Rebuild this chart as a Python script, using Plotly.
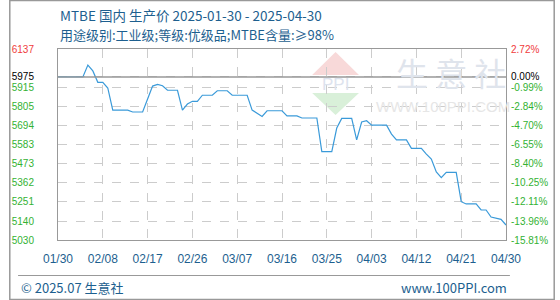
import pandas as pd
import plotly.graph_objects as go

# ---------------- data ----------------
start_date = "2025-01-30"
end_date = "2025-04-30"
dates = pd.date_range(start_date, end_date, freq="D")
prices = [
    5975, 5975, 5975, 5975, 5975, 5975,
    6044, 6010, 5944, 5944, 5911,
    5783, 5783, 5783, 5783,
    5772, 5772, 5772,
    5847, 5922, 5932, 5924,
    5898, 5898, 5898,
    5783, 5818, 5834, 5834,
    5869, 5869, 5869,
    5895, 5895, 5895,
    5869, 5869, 5869, 5869,
    5783, 5763, 5746,
    5779, 5779, 5779, 5779,
    5749, 5749, 5749,
    5737, 5737, 5737, 5737,
    5542, 5542, 5542,
    5679, 5735, 5735, 5735,
    5610, 5714, 5721,
    5696, 5696, 5696, 5696,
    5644, 5610, 5610, 5610,
    5561, 5561, 5561,
    5528, 5499, 5424, 5391,
    5422, 5422, 5422,
    5252, 5239, 5239, 5239,
    5204, 5204,
    5163, 5155, 5150, 5117,
]
base_price = 5975
y_ticks = [6137, 5975, 5915, 5805, 5694, 5583, 5473, 5362, 5251, 5140, 5030]
pct_labels = ["2.72%", "0.00%", "-0.99%", "-2.84%", "-4.70%", "-6.55%",
              "-8.40%", "-10.25%", "-12.11%", "-13.96%", "-15.81%"]
x_ticks = pd.date_range(start_date, end_date, freq="9D")
title1 = "MTBE 国内 生产价 2025-01-30 - 2025-04-30"
title2 = "用途级别:工业级;等级:优级品;MTBE含量:≥98%"
footer_left = "© 2025.07 生意社"
footer_right = "www.100PPI.com"

# ---------------- styling ----------------
RED = "#f03c3c"
GREEN = "#33b233"
BLACK = "#000000"
BLUE_TXT = "#1d5f8f"
LINE = "#3a9ad9"
GRID = "#cccccc"
BORDER = "#999999"

def tick_color(v):
    if v > base_price:
        return RED
    if v == base_price:
        return BLACK
    return GREEN

left_text = [f'<span style="color:{tick_color(v)}">{v}</span>' for v in y_ticks]
right_text = [f'<span style="color:{tick_color(v)}">{t}</span>' for v, t in zip(y_ticks, pct_labels)]

L, R, T, B = 50, 510, 49, 240
W, H = 560, 300

def px(x):
    return (x - L) / (R - L)

def py(y):
    return (B - y) / (B - T)

fig = go.Figure()
fig.add_trace(go.Scatter(x=dates, y=prices, mode="lines",
                         line=dict(color=LINE, width=1.2), hoverinfo="skip",
                         showlegend=False))
fig.add_trace(go.Scatter(x=dates, y=prices, mode="lines", yaxis="y2",
                         line=dict(width=0), opacity=0, hoverinfo="skip",
                         showlegend=False))

tick_font = dict(family="Liberation Sans, DejaVu Sans", size=10)
fig.update_layout(
    width=W, height=H,
    margin=dict(l=L, r=W - R, t=T, b=H - B),
    paper_bgcolor="white", plot_bgcolor="white",
    xaxis=dict(range=[dates[0], dates[-1]], tickvals=list(x_ticks),
               tickformat="%m/%d", showgrid=True, gridcolor=GRID,
               griddash="dash", gridwidth=1, showline=True, linecolor=BORDER,
               linewidth=1, mirror=True, ticks="", zeroline=False,
               tickfont=dict(family="Liberation Sans, DejaVu Sans", size=12, color=BLUE_TXT),
               ticklabelstandoff=8),
    yaxis=dict(range=[y_ticks[-1], y_ticks[0]], tickvals=y_ticks, ticktext=left_text,
               showgrid=True, gridcolor=GRID, griddash="dash", gridwidth=1,
               showline=True, linecolor=BORDER, linewidth=1, mirror=True,
               ticks="", zeroline=False, tickfont=tick_font,
               ticklabelstandoff=21),
    yaxis2=dict(range=[y_ticks[-1], y_ticks[0]], tickvals=y_ticks, ticktext=right_text,
                overlaying="y", side="right", showgrid=False, ticks="",
                zeroline=False, showline=False, tickfont=tick_font,
                ticklabelstandoff=4),
)

shapes = []
# base price line
shapes.append(dict(type="line", xref="paper", yref="y", x0=0, x1=1,
                   y0=base_price, y1=base_price, line=dict(color=BORDER, width=1.5),
                   layer="above"))
# watermark logo
shapes.append(dict(type="path", xref="paper", yref="paper", layer="below",
                   path=f"M {px(311)},{py(75)} L {px(335)},{py(52)} L {px(359)},{py(75)} Z",
                   fillcolor="#f8d9d9", line=dict(width=0)))
shapes.append(dict(type="path", xref="paper", yref="paper", layer="below",
                   path=f"M {px(311)},{py(93)} L {px(335)},{py(115)} L {px(359)},{py(93)} Z",
                   fillcolor="#d9f0d9", line=dict(width=0)))
# footer line
shapes.append(dict(type="line", xref="paper", yref="paper", x0=px(9), x1=px(514),
                   y0=py(275.5), y1=py(275.5), line=dict(color=BORDER, width=1)))
# outer border
shapes.append(dict(type="rect", xref="paper", yref="paper", x0=px(0.5), x1=px(559.5),
                   y0=py(0.5), y1=py(299.5), line=dict(color=BORDER, width=1.5)))
fig.update_layout(shapes=shapes)

cjk = "Noto Sans CJK SC, Liberation Sans"
ann = []
ann.append(dict(text=title1, x=px(50), y=py(15), xref="paper", yref="paper",
                xanchor="left", yanchor="middle", showarrow=False,
                font=dict(family=cjk, size=13.5, color=BLUE_TXT)))
ann.append(dict(text=title2, x=px(50), y=py(34), xref="paper", yref="paper",
                xanchor="left", yanchor="middle", showarrow=False,
                font=dict(family=cjk, size=13, color=BLUE_TXT)))
ann.append(dict(text=footer_left, x=px(10), y=py(287), xref="paper", yref="paper",
                xanchor="left", yanchor="middle", showarrow=False,
                font=dict(family=cjk, size=13, color=BLUE_TXT)))
ann.append(dict(text=footer_right, x=px(513), y=py(287), xref="paper", yref="paper",
                xanchor="right", yanchor="middle", showarrow=False,
                font=dict(family=cjk, size=13, color=BLUE_TXT)))
# watermark texts
ann.append(dict(text="PPI", x=px(335), y=py(84), xref="paper", yref="paper",
                xanchor="center", yanchor="middle", showarrow=False,
                font=dict(family="Liberation Sans", size=17, color="#dde3ee")))
ann.append(dict(text="生 意 社", x=px(454), y=py(72), xref="paper", yref="paper",
                xanchor="center", yanchor="middle", showarrow=False,
                font=dict(family=cjk, size=32, color="#dfe4ec")))
ann.append(dict(text="WWW.100PPI.COM", x=px(445), y=py(106), xref="paper", yref="paper",
                xanchor="center", yanchor="middle", showarrow=False,
                font=dict(family="Liberation Sans", size=15, color="#e6e6e6")))
fig.update_layout(annotations=ann)

fig.write_html("out.html")
